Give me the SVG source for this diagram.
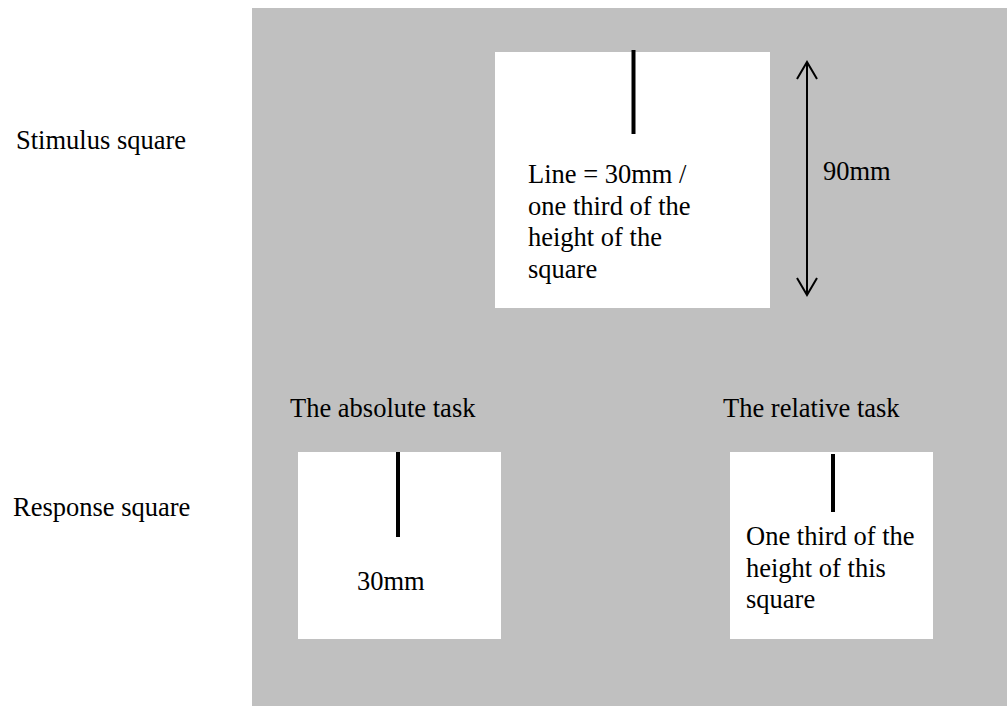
<svg xmlns="http://www.w3.org/2000/svg" width="1007" height="706" viewBox="0 0 1007 706">
  <defs>
    <style>
      .lbl { font-family: "Liberation Serif", "Times New Roman", serif; font-size: 26.5px; fill: #000; }
      .sq { fill: #fff; }
      .bar { stroke: #000; stroke-width: 4; }
      .dim { stroke: #000; stroke-width: 2; fill: none; }
    </style>
  </defs>
  <rect x="0" y="0" width="1007" height="706" fill="#fff"/>
  <!-- grey panel -->
  <rect x="252" y="8" width="755" height="698" fill="#c0c0c0"/>

  <!-- row labels -->
  <text class="lbl" x="16" y="149">Stimulus square</text>
  <text class="lbl" x="13" y="516">Response square</text>

  <!-- stimulus square -->
  <g id="stimulus">
    <rect class="sq" x="495" y="52" width="275" height="256"/>
    <line class="bar" x1="633.5" y1="50" x2="633.5" y2="134"/>
    <text class="lbl" x="528" y="183">Line = 30mm /</text>
    <text class="lbl" x="528" y="214.5">one third of the</text>
    <text class="lbl" x="528" y="246">height of the</text>
    <text class="lbl" x="528" y="277.5">square</text>
  </g>

  <!-- height dimension -->
  <g id="connectors">
    <line class="dim" x1="807" y1="62" x2="807" y2="295"/>
    <polyline class="dim" points="797,79 807,62 817,79"/>
    <polyline class="dim" points="797,278 807,295 817,278"/>
  </g>
  <text class="lbl" x="823" y="180">90mm</text>

  <!-- absolute task -->
  <g id="absolute">
    <text class="lbl" x="290" y="417">The absolute task</text>
    <rect class="sq" x="298" y="452" width="203" height="187"/>
    <line class="bar" x1="398" y1="452" x2="398" y2="537"/>
    <text class="lbl" x="357" y="590">30mm</text>
  </g>

  <!-- relative task -->
  <g id="relative">
    <text class="lbl" x="723" y="417">The relative task</text>
    <rect class="sq" x="730" y="452" width="203" height="187"/>
    <line class="bar" x1="833" y1="454" x2="833" y2="512"/>
    <text class="lbl" x="746" y="545">One third of the</text>
    <text class="lbl" x="746" y="576.5">height of this</text>
    <text class="lbl" x="746" y="608">square</text>
  </g>
</svg>
